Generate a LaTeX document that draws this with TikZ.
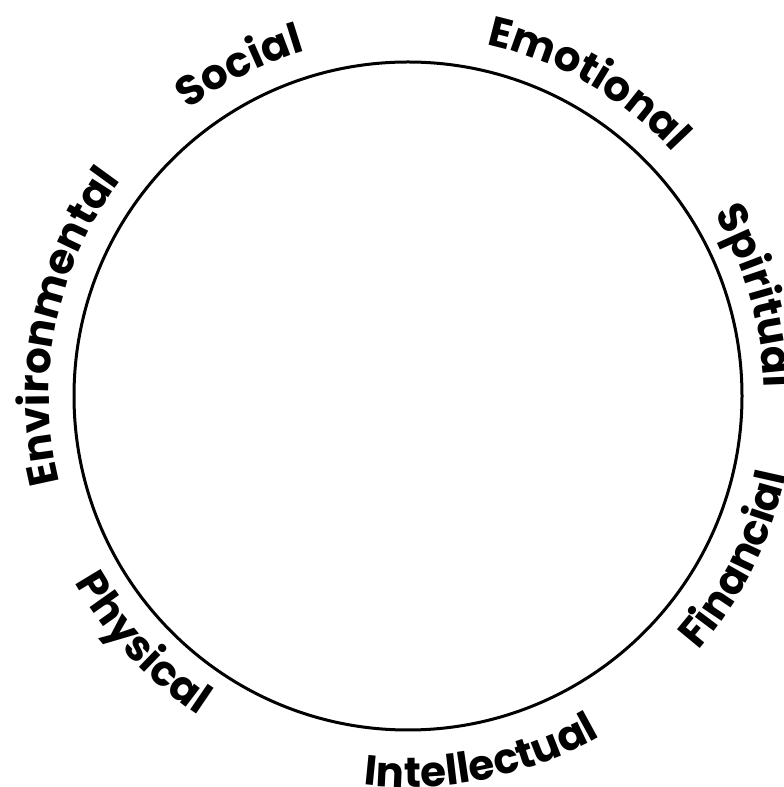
\documentclass[tikz,border=0pt]{standalone}
\usepackage{fontspec}
\setmainfont{Poppins}
\usetikzlibrary{decorations.text}
\newcommand\rimfont{\fontsize{42}{42}\selectfont\bfseries}
\tikzset{
  wheel/.style={line width=3pt},
  rimtext/.style={decorate,decoration={text along path,text align=center,text={|\rimfont|#1}}},
}
% labels on the rim: centre angle, radius, text
\newcommand\cwlabel[3]{\path[rimtext={#3}] (408,391) ++(#1+80:#2) arc[start angle=#1+80,end angle=#1-80,radius=#2];}
\newcommand\ccwlabel[3]{\path[rimtext={#3}] (408,391) ++(#1-80:#2) arc[start angle=#1-80,end angle=#1+80,radius=#2];}

\begin{document}
\begin{tikzpicture}[x=1pt,y=1pt]
  \useasboundingbox (0,0) rectangle (784,787);
  % the wheel
  \coordinate (hub) at (408,391);
  \draw[wheel] (hub) circle[radius=334];
  % outside, reading clockwise
  \cwlabel{168.5}{359}{Environmental}
  \cwlabel{117}{360}{Social}
  \cwlabel{60}{360}{Emotional}
  \cwlabel{16}{356}{Spiritual}
  % outside, reading counter-clockwise
  \ccwlabel{-26.5}{386}{Financial}
  \ccwlabel{-78.5}{391}{Intellectual}
  \ccwlabel{-137}{382}{Physical}
\end{tikzpicture}
\end{document}
